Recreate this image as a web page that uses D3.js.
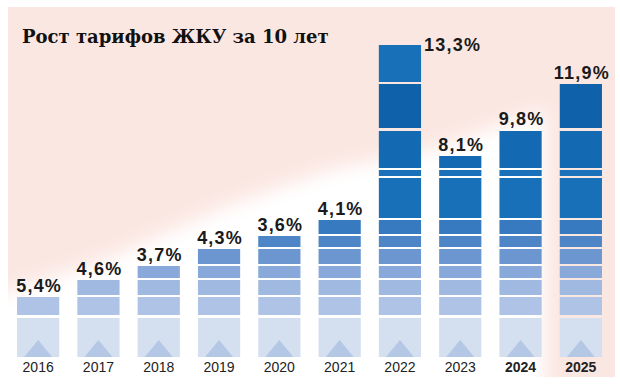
<!DOCTYPE html>
<html>
<head>
<meta charset="utf-8">
<script src="https://cdn.jsdelivr.net/npm/d3@7"></script>
<style>
  body { margin: 0; background: #fff; }
  svg { display: block; }
</style>
</head>
<body>
<div id="chart"></div>
<script>
// данные
var years = ["2016", "2017", "2018", "2019", "2020", "2021", "2022", "2023", "2024", "2025"];
var rates = [5.4, 4.6, 3.7, 4.3, 3.6, 4.1, 13.3, 8.1, 9.8, 11.9];
var barLevel = [60, 77, 91, 108, 121, 137, 312, 201, 227, 273]; // высота столбика (усл. ед.)
var segBreaks = [[0, 39], [42, 60], [62, 77], [79, 91], [93, 108], [110, 121], [123, 137],
                 [139, 179], [181, 187], [189, 226], [229, 273], [275, 312]];
var boldYears = ["2024", "2025"];
var sideLabelYear = "2022";

var segColors = ["#d4dff0", "#aec3e5", "#9fb9e1", "#88a9da", "#6b96d0", "#4e85c7", "#377abf",
                 "#1770b8", "#1a71b9", "#146ab2", "#0f61a9", "#1870b8"];

var W = 620, H = 389;

var svg = d3.select("#chart")
    .append("svg")
    .attr("width", W)
    .attr("height", H);

var defs = svg.append("defs");
defs.append("filter")
    .attr("id", "soft")
    .attr("x", "-20%").attr("y", "-20%")
    .attr("width", "140%").attr("height", "140%")
    .append("feGaussianBlur")
    .attr("stdDeviation", 9);

//фон
svg.append("rect")
    .attr("x", 8).attr("y", 7)
    .attr("width", 607).attr("height", 370)
    .attr("fill", "#fbe7e2");

svg.append("path")
    .attr("d", "M-20,300 L100,262 L230,205 L330,170 L430,150 L540,112 L545,112 L545,420 L-20,420 Z")
    .attr("fill", "#ffffff")
    .attr("filter", "url(#soft)");

svg.append("rect")
    .attr("x", 0).attr("y", 377)
    .attr("width", W).attr("height", 12)
    .attr("fill", "#ffffff");

var x = d3.scaleBand()
    .domain(years)
    .range([8, 611])
    .paddingInner(0.3)
    .paddingOuter(0.15);

var y = d3.scaleLinear()
    .domain([0, 320])
    .range([357, 37]);

//столбики
var bars = svg.selectAll("g.bar")
    .data(years)
    .enter()
    .append("g")
    .attr("class", "bar");

bars.each(function(yr, i){
    var g = d3.select(this);
    var top = barLevel[i];
    var segs = segBreaks
        .map(function(b, k){ return {k: k, from: b[0], to: Math.min(b[1], top)}; })
        .filter(function(s){ return s.to > s.from; });

    g.selectAll("rect")
        .data(segs)
        .enter()
        .append("rect")
        .attr("x", x(yr))
        .attr("width", x.bandwidth())
        .attr("y", function(s){ return y(s.to); })
        .attr("height", function(s){ return y(s.from) - y(s.to); })
        .attr("fill", function(s){ return segColors[s.k]; });

    // треугольник в основании
    var cx = x(yr) + x.bandwidth() / 2;
    g.append("path")
        .attr("d", "M" + (cx - 14) + "," + y(0) + " L" + cx + "," + (y(0) - 17) + " L" + (cx + 14) + "," + y(0) + " Z")
        .attr("fill", "#b4c7e4");
});

//подписи значений
var fmt = function(v){ return d3.format(".1f")(v).replace(".", ",") + "%"; };

svg.selectAll("text.val")
    .data(years)
    .enter()
    .append("text")
    .attr("class", "val")
    .attr("x", function(yr, i){
        return yr === sideLabelYear ? x(yr) + x.bandwidth() + 3 : x(yr) + x.bandwidth() / 2 + 1;
    })
    .attr("y", function(yr, i){
        return yr === sideLabelYear ? y(barLevel[i]) + 6 : y(barLevel[i]) - 5;
    })
    .attr("text-anchor", function(yr){ return yr === sideLabelYear ? "start" : "middle"; })
    .attr("font-family", "'Liberation Sans', Arial, sans-serif")
    .attr("font-weight", "bold")
    .attr("font-size", "18px")
    .attr("letter-spacing", "1.2px")
    .attr("fill", "#1a1a1a")
    .text(function(yr, i){ return fmt(rates[i]); });

//подписи годов
svg.selectAll("text.year")
    .data(years)
    .enter()
    .append("text")
    .attr("class", "year")
    .attr("x", function(yr){ return x(yr) + x.bandwidth() / 2; })
    .attr("y", 372)
    .attr("text-anchor", "middle")
    .attr("font-family", "'Liberation Sans', Arial, sans-serif")
    .attr("font-size", "14px")
    .attr("font-weight", function(yr){ return boldYears.indexOf(yr) >= 0 ? "bold" : "normal"; })
    .attr("fill", "#222")
    .text(function(yr){ return yr; });

//заголовок
svg.append("text")
    .attr("x", 22)
    .attr("y", 43)
    .attr("font-family", "'DejaVu Serif', serif")
    .attr("font-weight", "bold")
    .attr("font-size", "18px")
    .attr("fill", "#111")
    .text("Рост тарифов ЖКУ за 10 лет");
</script>
</body>
</html>
